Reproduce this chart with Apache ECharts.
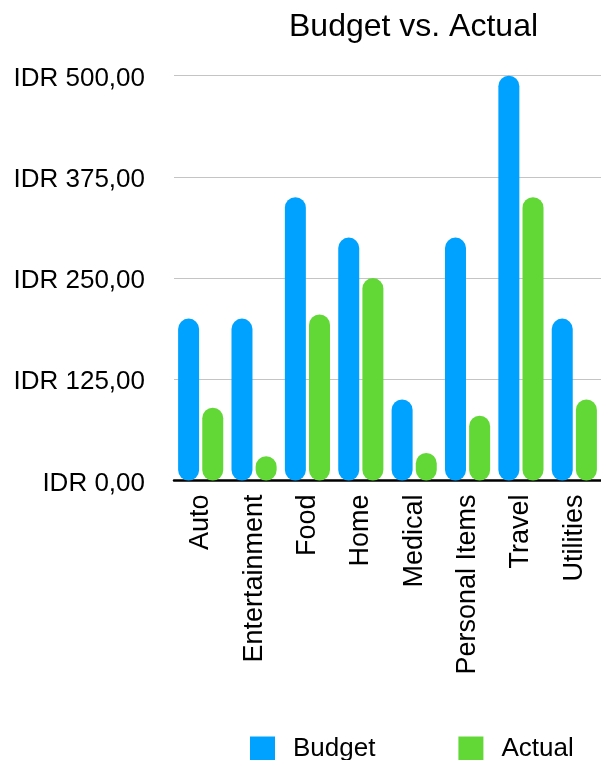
<!DOCTYPE html>
<html>
<head>
<meta charset="utf-8">
<script src="https://cdn.jsdelivr.net/npm/echarts@6/dist/echarts.min.js"></script>
<style>
    html, body { margin: 0; padding: 0; background: #fff; }
    #chart { width: 601px; height: 760px; }
</style>
</head>
<body>
<div id="chart"></div>
<script>
    const categories = ['Auto', 'Entertainment', 'Food', 'Home', 'Medical', 'Personal Items', 'Travel', 'Utilities'];
    const budget = [200, 200, 350, 300, 100, 300, 500, 200];
    const actual = [90, 30, 205, 250, 34, 80, 350, 100];
    const yTicks = [0, 125, 250, 375, 500];

    const font = '"Liberation Sans", Arial, Helvetica, sans-serif';

    let myChart = echarts.init(document.getElementById('chart'));
    myChart.setOption({
        animation: false,
        textStyle: {fontFamily: font},
        title: {
            text: 'Budget vs. Actual',
            left: 284,
            top: 6,
            textStyle: {fontSize: 32, fontWeight: 'normal', color: '#000', fontFamily: font}
        },
        legend: {
            left: 245,
            top: 731,
            icon: 'rect',
            itemWidth: 25,
            itemHeight: 25,
            itemGap: 83,
            textStyle: {fontSize: 26, color: '#000', padding: [0, 0, 0, 13], fontFamily: font},
            data: ['Budget', 'Actual']
        },
        grid: {left: 174, right: 0, top: 75.7, bottom: 279.5},
        xAxis: {
            type: 'category',
            data: categories,
            axisLine: {lineStyle: {color: '#000', width: 2.5}},
            axisTick: {show: false},
            axisLabel: {
                interval: 0,
                rotate: 90,
                margin: 14,
                fontSize: 27,
                color: '#000',
                fontFamily: font
            }
        },
        yAxis: {
            type: 'value',
            min: yTicks[0],
            max: yTicks[yTicks.length - 1],
            interval: 125,
            axisLine: {show: false},
            axisTick: {show: false},
            splitLine: {lineStyle: {color: '#c4c4c4', width: 1.2}},
            axisLabel: {
                margin: 29,
                color: '#000',
                formatter: v => '{a|IDR ' + v.toFixed(2).replace('.', ',') + '}',
                rich: {
                    a: {fontSize: 26, color: '#000', fontFamily: font, padding: [6, 0, 0, 0]}
                }
            }
        },
        series: [
            {
                name: 'Budget',
                type: 'bar',
                data: budget,
                barWidth: 21,
                barGap: '15%',
                itemStyle: {color: '#00A2FF', borderRadius: 10.5}
            },
            {
                name: 'Actual',
                type: 'bar',
                data: actual,
                barWidth: 21,
                itemStyle: {color: '#61D836', borderRadius: 10.5}
            }
        ]
    });
</script>
</body>
</html>
